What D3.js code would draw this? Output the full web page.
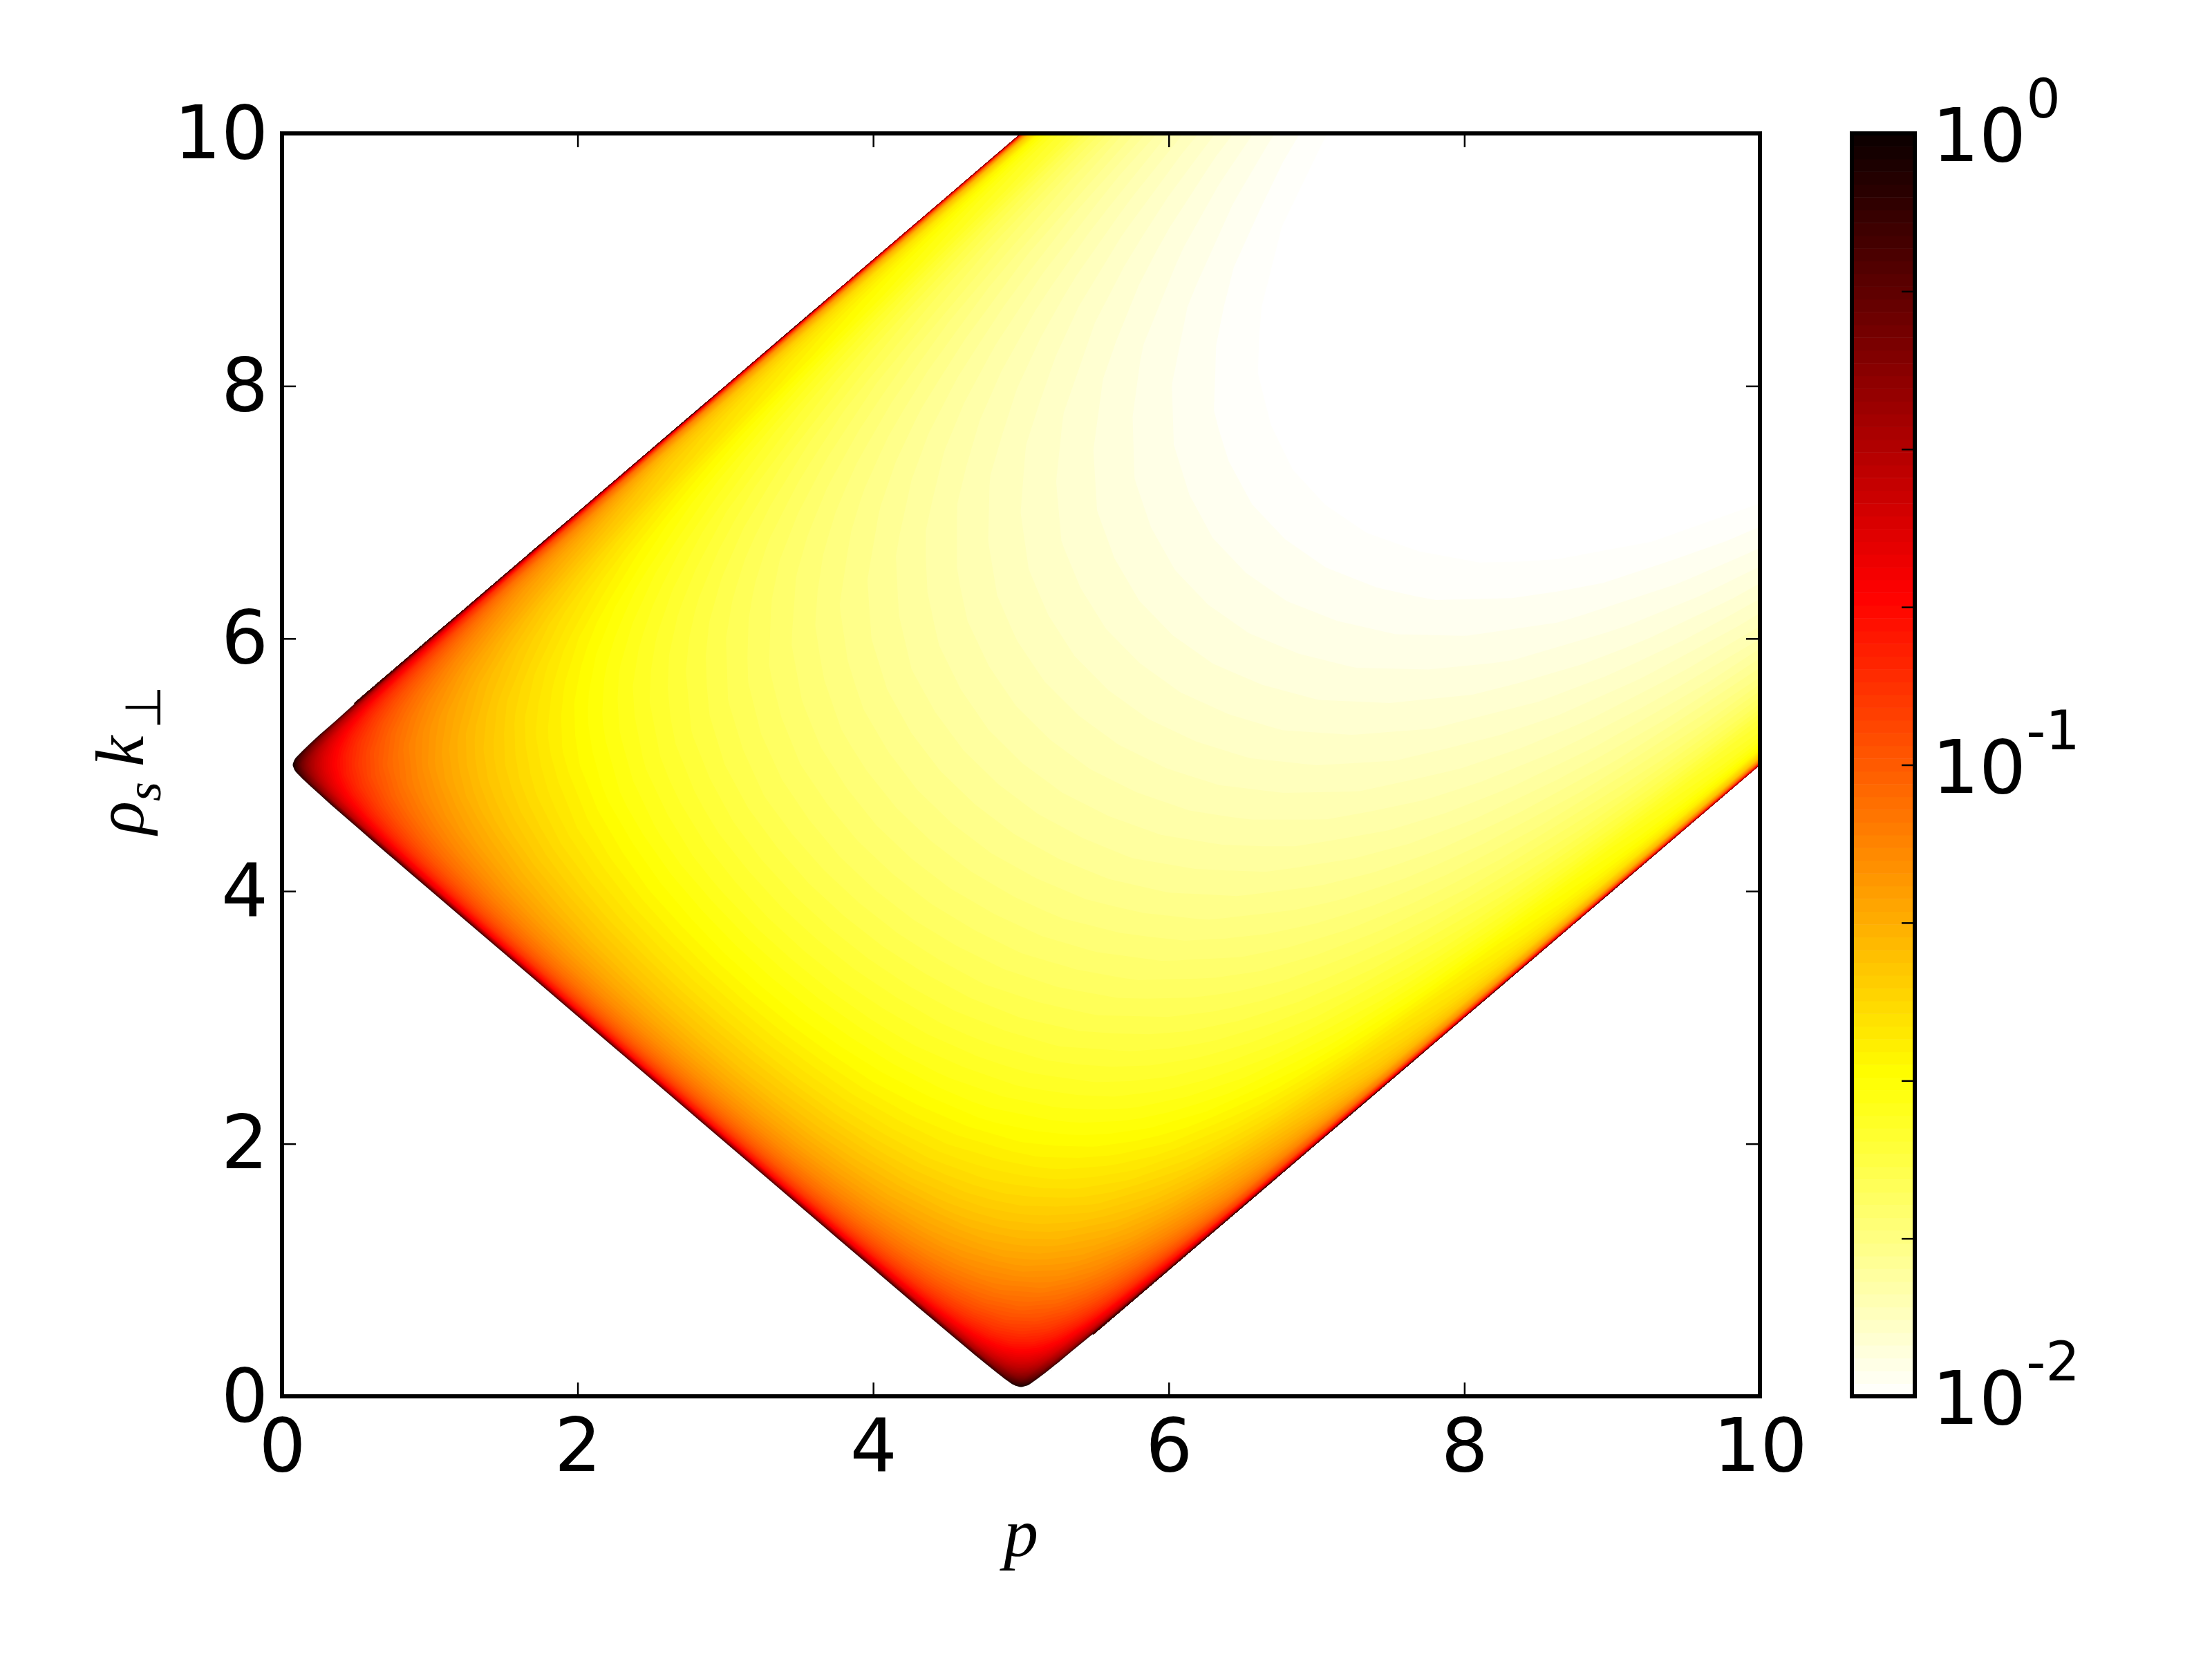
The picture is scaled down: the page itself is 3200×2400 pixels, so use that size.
<!DOCTYPE html>
<html>
<head>
<meta charset="utf-8">
<script src="https://cdn.jsdelivr.net/npm/d3@7"></script>
<style>
  body { margin: 0; background: #fff; }
  text { font-family: "DejaVu Sans", sans-serif; fill: #000; }
  .math { font-family: "Liberation Serif", serif; font-style: italic; }
</style>
</head>
<body>
<div id="chart"></div>
<script>
// tick labels
var xTicks = [0, 2, 4, 6, 8, 10];
var yTicks = [0, 2, 4, 6, 8, 10];
var barLabels = [[0, "0"], [-1, "-1"], [-2, "-2"]];
var barTicks = [-1.75, -1.5, -1.25, -1, -0.75, -0.5, -0.25];

// number of filled contour levels
var levelCount = 100;

// the wedge is read in its own coordinates: a = p + k - 5 is the distance
// from the lower left edge, e = 5 - |k - p| the distance from the side edges
var aNodes = [0.0005, 0.002, 0.008, 0.03, 0.06, 0.12, 0.18, 0.25, 0.35, 0.5, 0.7, 1, 1.25, 1.5, 2, 2.5, 3, 3.5, 4, 4.5, 5, 5.5, 6, 6.5, 7, 7.5, 8, 9, 10, 11, 12, 13.5, 15];
var eNodes = [0.0005, 0.002, 0.008, 0.03, 0.06, 0.12, 0.18, 0.25, 0.35, 0.5, 0.7, 1, 1.25, 1.5, 1.75, 2, 2.5, 3, 3.5, 4, 4.5, 5];

// log10 of the value, estimated from the band colours and smoothed by hand,
// one row per a, one column per e. The picture is mirrored about p = k so
// only one side is kept.
var logValues = [
  [2.120, 1.819, 1.519, 1.232, 1.082, 0.933, 0.846, 0.777, 0.706, 0.632, 0.563, 0.493, 0.451, 0.417, 0.390, 0.368, 0.333, 0.309, 0.291, 0.280, 0.273, 0.271],
  [1.819, 1.518, 1.218, 0.931, 0.781, 0.632, 0.545, 0.476, 0.405, 0.331, 0.200, 0.080, 0.020, -0.010, -0.020, -0.030, -0.040, -0.040, -0.050, -0.050, -0.050, -0.050],
  [1.518, 1.217, 0.917, 0.630, 0.480, 0.331, 0.244, 0.175, 0.104, 0.050, -0.020, -0.060, -0.080, -0.090, -0.100, -0.110, -0.120, -0.130, -0.140, -0.150, -0.160, -0.160],
  [1.231, 0.930, 0.630, 0.343, 0.193, 0.044, -0.043, -0.112, -0.160, -0.200, -0.250, -0.300, -0.330, -0.360, -0.380, -0.400, -0.430, -0.450, -0.470, -0.480, -0.490, -0.490],
  [1.080, 0.779, 0.479, 0.192, 0.042, -0.107, -0.194, -0.263, -0.334, -0.408, -0.477, -0.547, -0.589, -0.623, -0.650, -0.672, -0.707, -0.731, -0.749, -0.760, -0.767, -0.769],
  [0.928, 0.627, 0.327, 0.040, -0.110, -0.259, -0.346, -0.415, -0.486, -0.560, -0.629, -0.699, -0.741, -0.775, -0.802, -0.824, -0.859, -0.883, -0.901, -0.912, -0.919, -0.921],
  [0.838, 0.537, 0.237, -0.050, -0.200, -0.349, -0.436, -0.505, -0.576, -0.650, -0.719, -0.789, -0.831, -0.865, -0.892, -0.914, -0.949, -0.973, -0.991, -1.002, -1.009, -1.011],
  [0.766, 0.465, 0.165, -0.122, -0.272, -0.421, -0.508, -0.577, -0.648, -0.722, -0.791, -0.861, -0.903, -0.937, -0.964, -0.986, -1.021, -1.045, -1.063, -1.074, -1.081, -1.083],
  [0.690, 0.389, 0.089, -0.198, -0.348, -0.497, -0.584, -0.653, -0.724, -0.798, -0.867, -0.937, -0.979, -1.013, -1.040, -1.062, -1.097, -1.121, -1.139, -1.150, -1.157, -1.159],
  [0.610, 0.309, 0.009, -0.278, -0.428, -0.577, -0.664, -0.733, -0.804, -0.878, -0.947, -1.017, -1.059, -1.093, -1.120, -1.142, -1.177, -1.201, -1.219, -1.230, -1.237, -1.239],
  [0.533, 0.232, -0.068, -0.355, -0.505, -0.654, -0.741, -0.810, -0.881, -0.955, -1.024, -1.094, -1.136, -1.170, -1.197, -1.219, -1.254, -1.278, -1.296, -1.307, -1.314, -1.316],
  [-0.050, -0.100, -0.152, -0.439, -0.589, -0.738, -0.825, -0.894, -0.965, -1.039, -1.108, -1.178, -1.220, -1.254, -1.281, -1.303, -1.338, -1.362, -1.380, -1.391, -1.398, -1.400],
  [-0.050, -0.100, -0.205, -0.492, -0.642, -0.791, -0.878, -0.947, -1.018, -1.092, -1.161, -1.231, -1.273, -1.307, -1.334, -1.356, -1.391, -1.415, -1.433, -1.444, -1.451, -1.453],
  [-0.050, -0.100, -0.249, -0.536, -0.686, -0.835, -0.922, -0.991, -1.062, -1.136, -1.205, -1.275, -1.317, -1.351, -1.378, -1.400, -1.435, -1.459, -1.477, -1.488, -1.495, -1.497],
  [-0.050, -0.100, -0.321, -0.608, -0.758, -0.907, -0.994, -1.063, -1.134, -1.208, -1.277, -1.347, -1.389, -1.423, -1.450, -1.472, -1.507, -1.531, -1.549, -1.560, -1.567, -1.569],
  [-0.050, -0.100, -0.378, -0.675, -0.840, -0.989, -1.069, -1.130, -1.191, -1.265, -1.334, -1.404, -1.446, -1.480, -1.507, -1.529, -1.564, -1.588, -1.606, -1.617, -1.624, -1.626],
  [-0.050, -0.127, -0.427, -0.734, -0.914, -1.063, -1.135, -1.189, -1.240, -1.314, -1.383, -1.453, -1.495, -1.529, -1.556, -1.578, -1.613, -1.637, -1.655, -1.666, -1.673, -1.675],
  [-0.050, -0.168, -0.468, -0.775, -0.955, -1.104, -1.176, -1.230, -1.281, -1.355, -1.424, -1.494, -1.536, -1.570, -1.597, -1.619, -1.654, -1.678, -1.696, -1.707, -1.714, -1.716],
  [-0.050, -0.205, -0.505, -0.812, -0.992, -1.141, -1.213, -1.267, -1.318, -1.392, -1.461, -1.531, -1.573, -1.607, -1.634, -1.656, -1.691, -1.715, -1.733, -1.744, -1.751, -1.753],
  [-0.050, -0.238, -0.538, -0.855, -1.050, -1.199, -1.263, -1.310, -1.351, -1.425, -1.494, -1.564, -1.606, -1.640, -1.667, -1.689, -1.724, -1.748, -1.766, -1.777, -1.784, -1.786],
  [-0.050, -0.269, -0.569, -0.896, -1.106, -1.255, -1.312, -1.351, -1.382, -1.456, -1.525, -1.595, -1.637, -1.671, -1.698, -1.720, -1.755, -1.779, -1.797, -1.808, -1.815, -1.817],
  [-0.050, -0.296, -0.596, -0.923, -1.133, -1.282, -1.339, -1.378, -1.409, -1.483, -1.552, -1.622, -1.664, -1.698, -1.725, -1.747, -1.782, -1.806, -1.824, -1.835, -1.842, -1.844],
  [-0.050, -0.322, -0.622, -0.949, -1.159, -1.308, -1.365, -1.404, -1.435, -1.509, -1.578, -1.648, -1.690, -1.724, -1.751, -1.773, -1.808, -1.832, -1.850, -1.861, -1.868, -1.870],
  [-0.050, -0.346, -0.646, -0.973, -1.183, -1.332, -1.389, -1.428, -1.459, -1.533, -1.602, -1.672, -1.714, -1.748, -1.775, -1.797, -1.832, -1.856, -1.874, -1.885, -1.892, -1.894],
  [-0.068, -0.369, -0.669, -0.996, -1.206, -1.355, -1.412, -1.451, -1.482, -1.556, -1.625, -1.695, -1.737, -1.771, -1.798, -1.820, -1.855, -1.879, -1.897, -1.908, -1.915, -1.917],
  [-0.089, -0.390, -0.690, -1.017, -1.227, -1.376, -1.433, -1.472, -1.503, -1.577, -1.646, -1.716, -1.758, -1.792, -1.819, -1.841, -1.876, -1.900, -1.918, -1.929, -1.936, -1.938],
  [-0.109, -0.410, -0.710, -1.037, -1.247, -1.396, -1.453, -1.492, -1.523, -1.597, -1.666, -1.736, -1.778, -1.812, -1.839, -1.861, -1.896, -1.920, -1.938, -1.949, -1.956, -1.958],
  [-0.147, -0.448, -0.748, -1.075, -1.285, -1.434, -1.491, -1.530, -1.561, -1.635, -1.704, -1.774, -1.816, -1.850, -1.877, -1.899, -1.934, -1.958, -1.976, -1.987, -1.994, -1.996],
  [-0.181, -0.482, -0.782, -1.109, -1.319, -1.468, -1.525, -1.564, -1.595, -1.669, -1.738, -1.808, -1.850, -1.884, -1.911, -1.933, -1.968, -1.992, -2.010, -2.021, -2.028, -2.030],
  [-0.212, -0.513, -0.813, -1.140, -1.350, -1.499, -1.556, -1.595, -1.626, -1.700, -1.769, -1.839, -1.881, -1.915, -1.942, -1.964, -1.999, -2.023, -2.041, -2.052, -2.059, -2.061],
  [-0.241, -0.542, -0.842, -1.169, -1.379, -1.528, -1.585, -1.624, -1.655, -1.729, -1.798, -1.868, -1.910, -1.944, -1.971, -1.993, -2.028, -2.052, -2.070, -2.081, -2.088, -2.090],
  [-0.281, -0.582, -0.882, -1.209, -1.419, -1.568, -1.625, -1.664, -1.695, -1.769, -1.838, -1.908, -1.950, -1.984, -2.011, -2.033, -2.068, -2.092, -2.110, -2.121, -2.128, -2.130],
  [-0.317, -0.618, -0.918, -1.245, -1.455, -1.604, -1.661, -1.700, -1.731, -1.805, -1.874, -1.944, -1.986, -2.020, -2.047, -2.069, -2.104, -2.128, -2.146, -2.157, -2.164, -2.166]
];

var width = 3200, height = 2400;
var plot = {left: 408, right: 2546, top: 193, bottom: 2020};
var bar = {left: 2679, right: 2770};

var svg = d3.select("#chart").append("svg")
  .attr("width", width)
  .attr("height", height);

var x = d3.scaleLinear().domain([0, 10]).range([plot.left, plot.right]);
var y = d3.scaleLinear().domain([0, 10]).range([plot.bottom, plot.top]);
var barY = d3.scaleLinear().domain([-2, 0]).range([plot.bottom, plot.top]);

// matplotlib hot_r on a log range, t = 0 is black
var hot = d3.scaleLinear()
  .domain([0, 0.365, 0.746, 1])
  .range(["#0b0000", "#ff0000", "#ffff00", "#ffffff"]);
var color = function(exp) { return hot(-exp / 2); };

var levels = d3.range(levelCount).map(function(i) { return -2 + 2 * i / (levelCount - 1); });
var mid = function(i) { return (levels[i] + levels[i + 1]) / 2; };

// full grid, columns run over d = k - p from -5 to 5
var dNodes = eNodes.map(function(e) { return e - 5; })
  .concat(eNodes.slice(0, -1).reverse().map(function(e) { return 5 - e; }));
var grid = [];
logValues.forEach(function(row) {
  grid = grid.concat(row, row.slice(0, -1).reverse());
});

var nx = dNodes.length, ny = aNodes.length;
// d3.contours puts node i at i + 0.5
var dOf = d3.scaleLinear().domain(dNodes.map(function(d, i) { return i + 0.5; })).range(dNodes).clamp(true);
var aOf = d3.scaleLinear().domain(aNodes.map(function(d, i) { return i + 0.5; })).range(aNodes).clamp(true);

var project = d3.geoTransform({
  point: function(cx, cy) {
    var d = dOf(cx), a = aOf(cy);
    this.stream.point(x((a + 5 - d) / 2), y((a + 5 + d) / 2));
  }
});
var path = d3.geoPath(project);

var contours = d3.contours().size([nx, ny]).thresholds(levels)(grid);

svg.append("clipPath").attr("id", "plotClip").append("rect")
  .attr("x", plot.left).attr("y", plot.top)
  .attr("width", plot.right - plot.left).attr("height", plot.bottom - plot.top);

// each level paints over the lower ones, above the last level stays white
// (the white one gets a stroke so no dark fringe is left outside it)
svg.append("g").attr("clip-path", "url(#plotClip)")
  .selectAll("path")
  .data(contours)
  .enter()
  .append("path")
  .attr("d", path)
  .attr("fill", function(d, i) { return i < levelCount - 1 ? color(mid(i)) : "#fff"; })
  .attr("stroke", function(d, i) { return i < levelCount - 1 ? "none" : "#fff"; })
  .attr("stroke-width", 2);

// Axes
function styleAxis(g) {
  g.select(".domain").remove();
  g.selectAll(".tick line").attr("stroke", "#000").attr("stroke-width", 2.5);
  g.selectAll("text").style("font-size", "107px");
}

svg.append("g")
  .attr("transform", "translate(0," + plot.bottom + ")")
  .call(d3.axisBottom(x).tickValues(xTicks).tickSize(-20).tickFormat(d3.format("d")))
  .call(styleAxis)
  .selectAll("text").attr("y", 108).attr("dy", 0);

svg.append("g")
  .attr("transform", "translate(0," + plot.top + ")")
  .call(d3.axisTop(x).tickValues(xTicks.slice(1, -1)).tickSize(-20).tickFormat(""))
  .call(styleAxis);

svg.append("g")
  .attr("transform", "translate(" + plot.left + ",0)")
  .call(d3.axisLeft(y).tickValues(yTicks).tickSize(-20).tickFormat(d3.format("d")))
  .call(styleAxis)
  .selectAll("text").attr("x", -20).attr("dy", 35);

svg.append("g")
  .attr("transform", "translate(" + plot.right + ",0)")
  .call(d3.axisRight(y).tickValues(yTicks.slice(1, -1)).tickSize(-20).tickFormat(""))
  .call(styleAxis);

svg.append("rect")
  .attr("x", plot.left).attr("y", plot.top)
  .attr("width", plot.right - plot.left).attr("height", plot.bottom - plot.top)
  .attr("fill", "none").attr("stroke", "#000").attr("stroke-width", 6);

// Axis titles
svg.append("text")
  .attr("class", "math")
  .attr("x", x(5))
  .attr("y", 2251)
  .attr("text-anchor", "middle")
  .style("font-size", "100px")
  .text("p");

var yTitle = svg.append("text")
  .attr("class", "math")
  .attr("transform", "translate(207,1207) rotate(-90)")
  .style("font-size", "100px");
yTitle.append("tspan").text("ρ");
yTitle.append("tspan").attr("dy", 25).style("font-size", "72px").text("s");
yTitle.append("tspan").attr("dy", -25).attr("dx", 22).text("k");
yTitle.append("tspan").attr("dy", 25).attr("dx", 10)
  .style("font-size", "72px")
  .style("font-family", "'DejaVu Sans'")
  .style("font-style", "normal")
  .text("⊥");

// Colorbar
svg.append("g")
  .selectAll("rect")
  .data(levels.slice(0, -1))
  .enter()
  .append("rect")
  .attr("x", bar.left)
  .attr("width", bar.right - bar.left)
  .attr("y", function(d, i) { return barY(levels[i + 1]); })
  .attr("height", function(d, i) { return barY(levels[i]) - barY(levels[i + 1]) + 0.5; })
  .attr("fill", function(d, i) { return color(mid(i)); });

svg.append("g")
  .attr("transform", "translate(" + bar.right + ",0)")
  .call(d3.axisRight(barY).tickValues(barTicks).tickSize(-19).tickFormat(""))
  .call(styleAxis);

svg.append("rect")
  .attr("x", bar.left).attr("y", plot.top)
  .attr("width", bar.right - bar.left).attr("height", plot.bottom - plot.top)
  .attr("fill", "none").attr("stroke", "#000").attr("stroke-width", 6);

var barLabel = svg.append("g").selectAll("text")
  .data(barLabels)
  .enter()
  .append("text")
  .attr("x", 2795)
  .attr("y", function(d) { return barY(d[0]) + 40; })
  .style("font-size", "107px");
barLabel.append("tspan").text("10");
barLabel.append("tspan")
  .attr("dy", -63)
  .style("font-size", "78px")
  .text(function(d) { return d[1]; });
</script>
</body>
</html>
